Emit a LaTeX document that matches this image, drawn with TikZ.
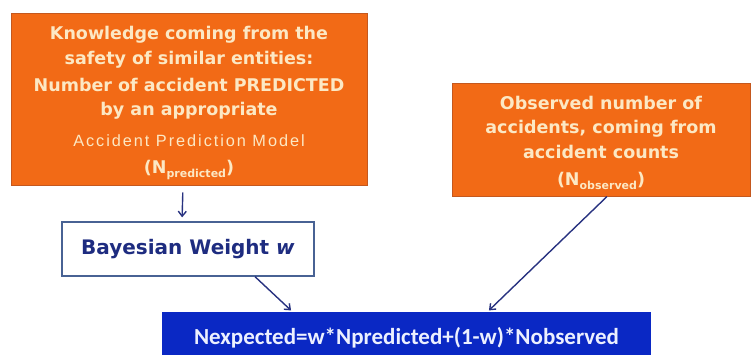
\documentclass[tikz,border=0pt]{standalone}
\usepackage{fontspec}
\setmainfont{DejaVu Sans}
\newfontfamily\modelfont[LetterSpace=12]{Liberation Sans}
\newfontfamily\formulafont{Carlito}
\usetikzlibrary{arrows.meta}

\definecolor{orangefill}{RGB}{242,106,22}
\definecolor{orangeedge}{RGB}{196,88,30}
\definecolor{creamtext}{RGB}{252,232,196}
\definecolor{steeledge}{RGB}{72,98,148}
\definecolor{navytext}{RGB}{30,44,128}
\definecolor{bluefill}{RGB}{10,40,196}
\definecolor{formulatext}{RGB}{236,240,255}
\definecolor{arrowcol}{RGB}{40,50,128}

\tikzset{
  sourcebox/.style={draw=orangeedge, line width=1pt, fill=orangefill, inner sep=0pt},
  sourcetext/.style={text=creamtext, align=center, inner sep=0pt,
    font=\bfseries\fontsize{17.5}{24.5}\selectfont},
  weightbox/.style={draw=steeledge, line width=1.3pt, fill=white,
    text=navytext, inner sep=0pt,
    font=\bfseries\fontsize{20}{24}\selectfont},
  resultbox/.style={fill=bluefill, text=formulatext, inner sep=0pt,
    font=\formulafont\bfseries\fontsize{23}{27}\selectfont},
  flow/.style={draw=arrowcol, line width=1.4pt,
    -{Straight Barb[length=5pt,width=8pt,line width=1.4pt]}}
}

\newcommand{\lowsub}[1]{\raisebox{-4pt}{\fontsize{11}{11}\selectfont #1}}

\begin{document}
\begin{tikzpicture}[x=1pt,y=-1pt]
  \useasboundingbox (0,0) rectangle (752,354);
  \clip (0,0) rectangle (752,354);

  % prior knowledge from the prediction model
  \node[sourcebox, minimum width=356pt, minimum height=172pt] (model) at (189,99) {};
  \node[sourcetext] (modeltext) at (189,103)
    {Knowledge coming from the\\
     safety of similar entities:\\[3pt]
     Number of accident PREDICTED\\[-1pt]
     by an appropriate\\[7pt]
     {\modelfont\mdseries\fontsize{16.3}{19}\selectfont Accident Prediction Model}\\[2pt]
     (N\lowsub{predicted})};

  % site-specific accident history
  \node[sourcebox, minimum width=298pt, minimum height=113pt] (counts) at (601,139.5) {};
  \node[sourcetext] (countstext) at (601,143)
    {Observed number of\\
     accidents, coming from\\
     accident counts\\[3pt]
     (N\lowsub{observed})};

  % weighting factor
  \node[weightbox, minimum width=252pt, minimum height=54pt] (weight) at (188,249)
    {Bayesian Weight \textit{w}};

  % empirical Bayes estimate
  \node[resultbox, minimum width=489pt, minimum height=52pt] (estimate) at (406.5,338)
    {Nexpected=w*Npredicted+(1-w)*Nobserved};

  \draw[flow, shorten <=7pt, shorten >=4pt]
    ([xshift=-6pt]model.south) -- ([xshift=-6pt]weight.north);
  \draw[flow, shorten >=2pt] ([xshift=67pt]weight.south) -- ([xshift=-114pt]estimate.north);
  \draw[flow, shorten >=2pt] ([xshift=6pt]counts.south) -- ([xshift=81pt]estimate.north);
\end{tikzpicture}
\end{document}
